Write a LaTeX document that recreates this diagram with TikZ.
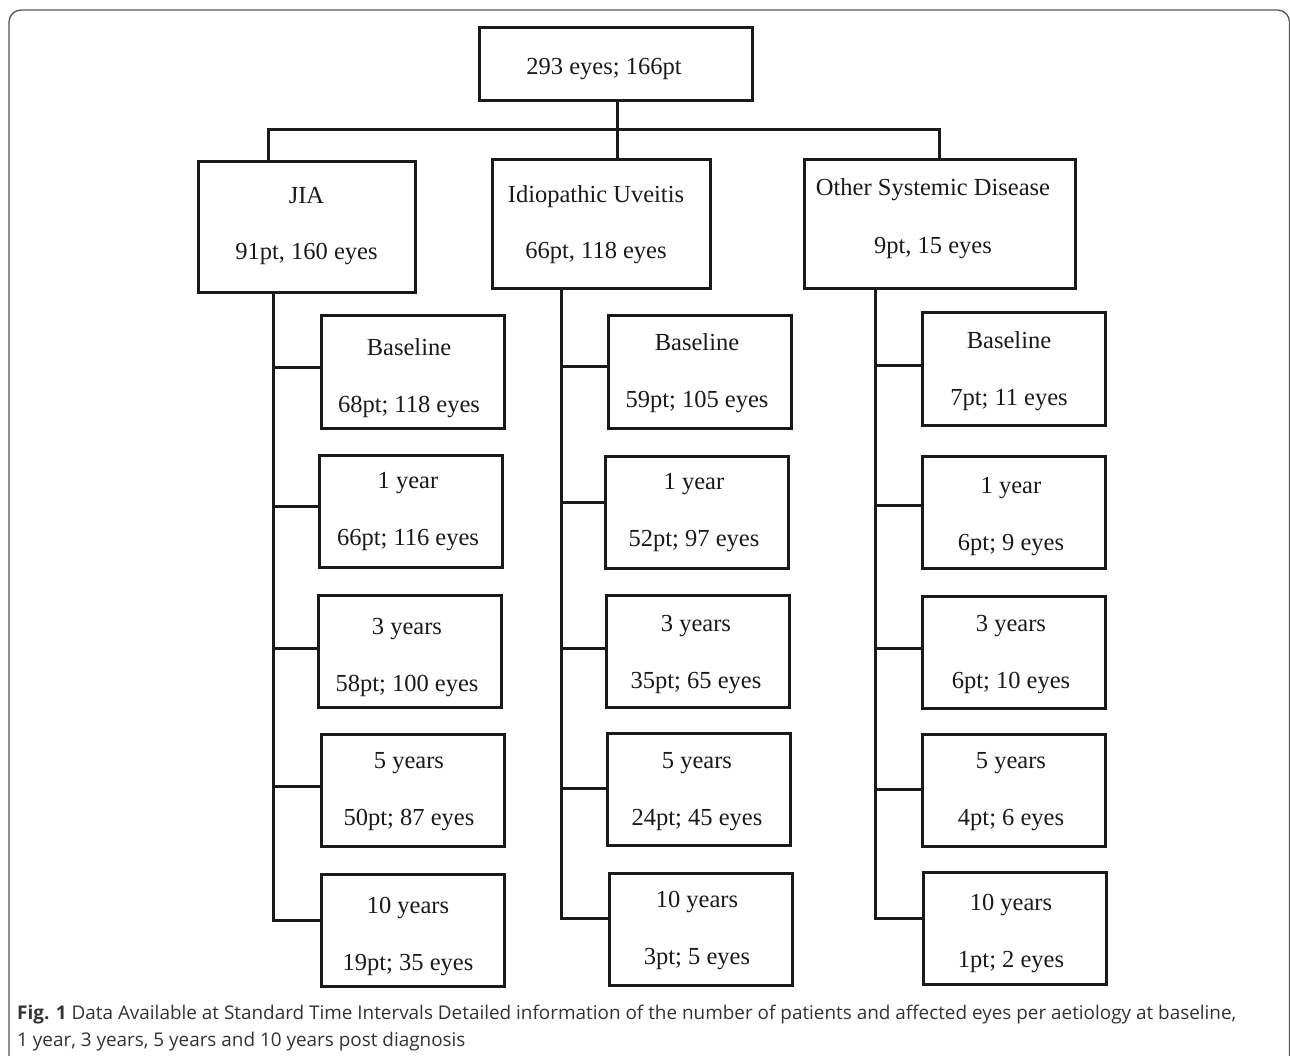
\documentclass[tikz,border=0pt]{standalone}
\usepackage{fontspec}
\setmainfont{Liberation Serif}
\newfontfamily\capfont{Open Sans}
\definecolor{ink}{HTML}{1A1A1A}
\definecolor{framegray}{HTML}{555555}
\definecolor{captext}{HTML}{333333}
\newcommand\kidbox[7]{%
  \node[kid] (#1) at (#2,#3) {};
  \node[boxtext] (#1t) at (#4,#5) {#6\\[28pt]#7};
}
\begin{document}
\begin{tikzpicture}[x=1pt,y=-1pt,
  box/.style={draw=ink, line width=3pt, rectangle, inner sep=0pt},
  boxtext/.style={inner sep=0pt, align=center, font=\fontsize{24.5}{29}\selectfont, text=ink},
  kid/.style={box, minimum width=183pt, minimum height=112pt},
  link/.style={draw=ink, line width=3pt, line join=miter}]
\useasboundingbox (0,0) rectangle (1290,1056);
\clip (0,0) rectangle (1290,1056);
\fill[white] (0,0) rectangle (1290,1056);
\draw[framegray, line width=1.3pt, rounded corners=12pt] (9,10) rectangle (1289.5,1080);

% top level
\node[box, minimum width=273pt, minimum height=73pt] (top) at (615.5,64.5) {};
\node[boxtext] (topt) at (604,69.5) {293 eyes; 166pt};
\node[box, minimum width=217pt, minimum height=131pt] (jia) at (306.5,227.5) {};
\node[boxtext] (jiat) at (306.5,226) {JIA\\[27pt]91pt, 160 eyes};
\node[box, minimum width=218pt, minimum height=129pt] (idio) at (601,224.5) {};
\node[boxtext] (idiot) at (596,224.5) {Idiopathic Uveitis\\[27pt]66pt, 118 eyes};
\node[box, minimum width=271pt, minimum height=129pt] (other) at (939.5,224.5) {};
\node[boxtext] (othert) at (933,219) {Other Systemic Disease\\[29pt]9pt, 15 eyes};

\coordinate (jl) at (268,130);
\coordinate (bar) at (617,130);
\coordinate (orr) at (939,130);
\draw[link] (jia.north -| jl) -- (jl) -- (orr) -- (other.north -| orr);
\draw[link] (top.south -| bar) -- (idio.north -| bar);

% JIA children
\kidbox{j0}{412.5}{372}{409}{378.5}{Baseline}{68pt; 118 eyes}
\kidbox{j1}{411}{511}{408}{511.5}{1 year}{66pt; 116 eyes}
\kidbox{j3}{410}{651}{407}{658}{3 years}{58pt; 100 eyes}
\kidbox{j5}{412.5}{790}{409}{791.5}{5 years}{50pt; 87 eyes}
\kidbox{j10}{412.5}{930.5}{408}{936.5}{10 years}{19pt; 35 eyes}
\coordinate (jt) at (273,293);
\draw[link] (jt) |- ([yshift=4pt]j0.west);
\draw[link] (jt) |- ([yshift=5pt]j1.west);
\draw[link] (jt) |- ([yshift=3pt]j3.west);
\draw[link] (jt) |- ([yshift=4pt]j5.west);
\draw[link] (jt) |- ([yshift=10.5pt]j10.west);

% Idiopathic children
\kidbox{i0}{699.5}{372}{697}{373}{Baseline}{59pt; 105 eyes}
\kidbox{i1}{696.5}{512}{694}{512.5}{1 year}{52pt; 97 eyes}
\kidbox{i3}{698}{651}{696}{654.5}{3 years}{35pt; 65 eyes}
\kidbox{i5}{699}{789}{697}{791.5}{5 years}{24pt; 45 eyes}
\kidbox{i10}{701}{929.5}{697}{930}{10 years}{3pt; 5 eyes}
\coordinate (it) at (561,289);
\draw[link] (it) |- ([yshift=5pt]i0.west);
\draw[link] (it) |- ([yshift=10pt]i1.west);
\draw[link] (it) |- ([yshift=3pt]i3.west);
\draw[link] (it) |- ([yshift=1pt]i5.west);
\draw[link] (it) |- ([yshift=11.5pt]i10.west);

% Other children
\kidbox{o0}{1014}{369}{1009}{371.5}{Baseline}{7pt; 11 eyes}
\kidbox{o1}{1014}{512.5}{1011}{516.5}{1 year}{6pt; 9 eyes}
\kidbox{o3}{1014}{652}{1011}{655}{3 years}{6pt; 10 eyes}
\kidbox{o5}{1013.5}{790}{1011}{791.5}{5 years}{4pt; 6 eyes}
\kidbox{o10}{1015}{928.5}{1011}{933.5}{10 years}{1pt; 2 eyes}
\coordinate (ot) at (875,289);
\draw[link] (ot) |- ([yshift=3pt]o0.west);
\draw[link] (ot) |- ([yshift=7.5pt]o1.west);
\draw[link] (ot) |- ([yshift=4pt]o3.west);
\draw[link] (ot) |- ([yshift=1pt]o5.west);
\draw[link] (ot) |- ([yshift=10.5pt]o10.west);

% caption
\node[anchor=north west, inner sep=0pt, align=left, text=captext,
  font=\capfont\fontsize{18.9}{27}\selectfont] (cap) at (17,1005)
  {\textbf{Fig. 1} Data Available at Standard Time Intervals Detailed information of the number of patients and affected eyes per aetiology at baseline,\\
   1 year, 3 years, 5 years and 10 years post diagnosis};
\end{tikzpicture}
\end{document}
